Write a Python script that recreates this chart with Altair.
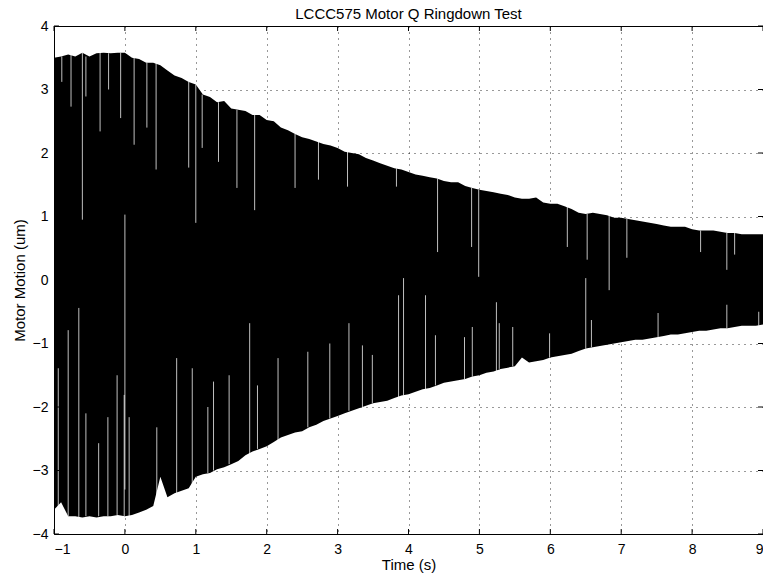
import altair as alt
import pandas as pd

# envelope sampled every 0.1 s from t=-1 to t=9
times = [round(-1 + 0.1 * i, 1) for i in range(101)]
upper = [3.50, 3.52, 3.55, 3.52, 3.58, 3.52, 3.57, 3.58, 3.57, 3.58,
         3.58, 3.50, 3.48, 3.42, 3.42, 3.38, 3.30, 3.22, 3.18, 3.12,
         3.08, 2.92, 2.88, 2.80, 2.82, 2.70, 2.68, 2.66, 2.60, 2.60,
         2.52, 2.50, 2.40, 2.36, 2.30, 2.25, 2.22, 2.18, 2.14, 2.12,
         2.08, 2.02, 2.00, 1.98, 1.92, 1.88, 1.84, 1.80, 1.76, 1.74,
         1.70, 1.66, 1.64, 1.62, 1.60, 1.56, 1.54, 1.54, 1.48, 1.45,
         1.42, 1.40, 1.38, 1.36, 1.34, 1.30, 1.28, 1.28, 1.30, 1.22,
         1.20, 1.20, 1.16, 1.12, 1.06, 1.04, 1.06, 1.04, 1.02, 0.98,
         0.98, 0.96, 0.94, 0.92, 0.90, 0.88, 0.86, 0.84, 0.84, 0.84,
         0.80, 0.78, 0.78, 0.78, 0.76, 0.74, 0.74, 0.72, 0.72, 0.72,
         0.72]
lower = [-3.62, -3.50, -3.72, -3.72, -3.74, -3.72, -3.74, -3.72, -3.72, -3.70,
         -3.72, -3.70, -3.66, -3.62, -3.56, -3.10, -3.42, -3.36, -3.32, -3.28,
         -3.10, -3.06, -3.04, -2.98, -2.95, -2.90, -2.85, -2.76, -2.70, -2.66,
         -2.62, -2.55, -2.48, -2.44, -2.40, -2.38, -2.32, -2.28, -2.22, -2.18,
         -2.14, -2.10, -2.06, -2.02, -1.98, -1.94, -1.92, -1.90, -1.86, -1.82,
         -1.80, -1.76, -1.72, -1.70, -1.66, -1.62, -1.60, -1.58, -1.56, -1.52,
         -1.50, -1.46, -1.44, -1.40, -1.38, -1.36, -1.22, -1.30, -1.28, -1.26,
         -1.22, -1.20, -1.18, -1.16, -1.12, -1.08, -1.06, -1.04, -1.02, -1.00,
         -0.98, -0.96, -0.94, -0.94, -0.92, -0.90, -0.88, -0.86, -0.86, -0.84,
         -0.82, -0.80, -0.80, -0.78, -0.76, -0.76, -0.74, -0.72, -0.72, -0.72,
         -0.70]

# light gaps in the dense trace: time, start value, end value
gap_t = [-0.89, -0.76, -0.60, -0.55, -0.35, -0.23, -0.06, 0.00, 0.13, 0.31,
         0.44, 0.90, 1.00, 1.09, 1.32, 1.58, 1.83, 2.40, 2.73, 3.14,
         3.83, 4.41, 4.89, 4.99, 6.24, 6.52, 6.83, 7.08, 8.12, 8.49,
         8.60,
         -0.94, -0.80, -0.65, -0.55, -0.37, -0.24, -0.11, -0.01, 0.06, 0.45,
         0.73, 0.95, 1.17, 1.25, 1.47, 1.76, 1.87, 2.16, 2.58, 2.89,
         3.16, 3.35, 3.49, 3.86, 3.93, 4.24, 4.38, 4.79, 4.90, 5.24,
         5.28, 5.47, 5.99, 6.50, 6.58, 7.52, 8.49, 8.94]
gap_from = [3.52, 3.55, 3.58, 3.52, 3.58, 3.57, 3.58, 1.03, 3.50, 3.42,
            3.42, 3.12, 3.08, 2.92, 2.80, 2.68, 2.60, 2.30, 2.18, 2.02,
            1.76, 1.60, 1.45, 1.42, 1.16, 1.04, 1.02, 0.96, 0.78, 0.74,
            0.74,
            -3.60, -3.72, -3.74, -3.72, -3.72, -3.72, -3.70, -3.72, -3.72, -3.50,
            -3.36, -3.28, -3.04, -3.00, -2.90, -2.76, -2.66, -2.55, -2.32, -2.18,
            -2.06, -2.00, -1.94, -1.86, -1.82, -1.72, -1.66, -1.56, -1.52, -1.44,
            -1.40, -1.36, -1.22, -1.08, -1.06, -0.90, -0.76, -0.72]
gap_to = [3.12, 2.73, 0.95, 2.89, 2.34, 3.00, 2.55, -3.30, 2.13, 2.40,
          1.74, 1.77, 0.90, 2.08, 1.86, 1.45, 1.10, 1.45, 1.58, 1.47,
          1.47, 0.44, 0.52, 0.05, 0.52, 0.32, -0.16, 0.35, 0.44, 0.16,
          0.40,
          -1.39, -0.79, -0.44, -2.10, -2.57, -2.16, -1.50, -1.81, -2.16, -2.32,
          -1.23, -1.39, -2.00, -1.60, -1.50, -0.68, -1.66, -1.23, -1.13, -1.00,
          -0.68, -1.03, -1.18, -0.24, 0.03, -0.24, -0.87, -0.90, -0.74, -0.35,
          -0.68, -0.74, -0.84, 0.03, -0.63, -0.52, -0.39, -0.50]

x_ticks = list(range(-1, 10))
y_ticks = list(range(-4, 5))

W, H = 709, 508
FONT = "Liberation Sans"

env = pd.DataFrame({"t": times, "hi": upper, "lo": lower})
gaps = pd.DataFrame({"t": gap_t, "a": gap_from, "b": gap_to})
xt = pd.DataFrame({"t": x_ticks})
yt = pd.DataFrame({"v": y_ticks})

xs = alt.Scale(domain=[-1, 9], nice=False, zero=False)
ys = alt.Scale(domain=[-4, 4], nice=False, zero=False)

base_axis = dict(grid=True, gridColor="#000000", gridDash=[1, 5], gridOpacity=0.8,
                 gridWidth=1, ticks=False, domain=False, labelFont=FONT,
                 labelFontSize=14, labelColor="#000000", titleFont=FONT,
                 titleFontSize=15, titleColor="#000000", titleFontWeight="normal")
ax_x = alt.Axis(values=x_ticks, title="Time (s)", labelPadding=8, titlePadding=1, **base_axis)
ax_y = alt.Axis(values=y_ticks, title="Motor Motion (um)", labelPadding=6,
                titlePadding=5, **base_axis)

area = alt.Chart(env).mark_area(color="#000000", interpolate="linear", opacity=1).encode(
    x=alt.X("t:Q", scale=xs, axis=ax_x, title="Time (s)"),
    y=alt.Y("hi:Q", scale=ys, axis=ax_y, title="Motor Motion (um)"),
    y2="lo:Q",
)

gap_rules = alt.Chart(gaps).mark_rule(color="#ffffff", strokeWidth=1, opacity=0.75).encode(
    x=alt.X("t:Q", scale=xs, axis=ax_x, title="Time (s)"),
    y=alt.Y("a:Q", scale=ys, axis=ax_y, title="Motor Motion (um)"),
    y2="b:Q",
)

tick_len = 5
xb = alt.Chart(xt).mark_rule(color="#000000").encode(
    x=alt.X("t:Q", scale=xs, axis=ax_x, title="Time (s)"), y=alt.value(H), y2=alt.value(H - tick_len))
xtop = alt.Chart(xt).mark_rule(color="#000000").encode(
    x=alt.X("t:Q", scale=xs, axis=ax_x, title="Time (s)"), y=alt.value(0), y2=alt.value(tick_len))
yl = alt.Chart(yt).mark_rule(color="#000000").encode(
    y=alt.Y("v:Q", scale=ys, axis=ax_y, title="Motor Motion (um)"), x=alt.value(0), x2=alt.value(tick_len))
yr = alt.Chart(yt).mark_rule(color="#000000").encode(
    y=alt.Y("v:Q", scale=ys, axis=ax_y, title="Motor Motion (um)"), x=alt.value(W), x2=alt.value(W - tick_len))

chart = alt.layer(area, gap_rules, xb, xtop, yl, yr).properties(
    width=W, height=H,
    title=alt.TitleParams("LCCC575 Motor Q Ringdown Test", font=FONT, fontSize=15,
                          fontWeight="normal", color="#000000", offset=9, dy=12),
    autosize=alt.AutoSizeParams(type="none"),
    padding={"left": 54, "top": 26, "right": 0, "bottom": 43},
    background="#ffffff",
).configure_view(stroke="#000000", strokeWidth=1)

chart.save("out.html", embed_options={"renderer": "svg", "actions": False})
